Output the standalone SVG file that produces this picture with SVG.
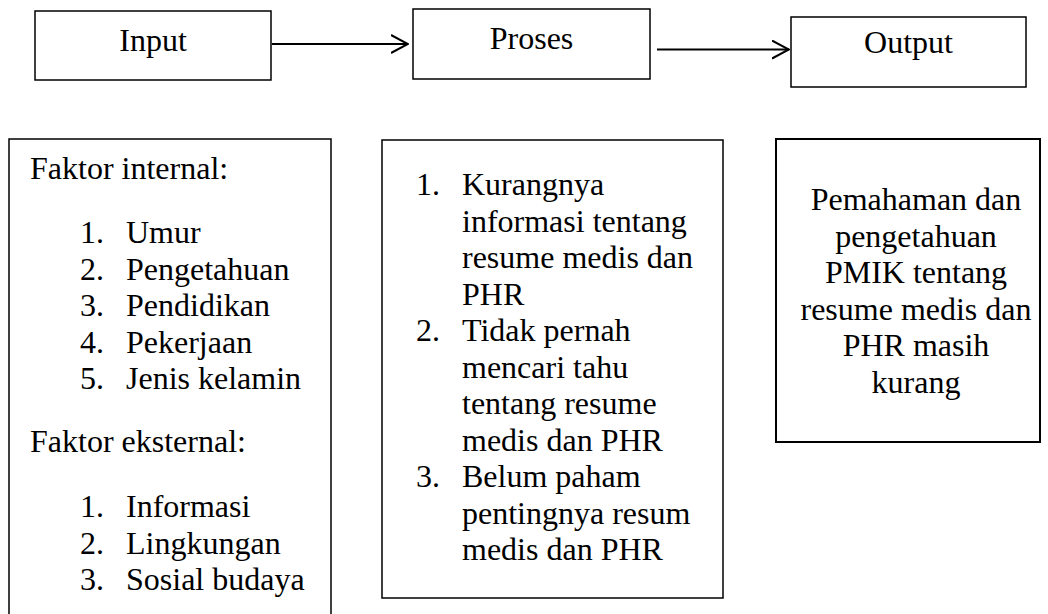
<svg xmlns="http://www.w3.org/2000/svg" width="1048" height="614" viewBox="0 0 1048 614">
<defs>
  <marker id="arr" viewBox="0 0 18 20" refX="17" refY="10" markerWidth="18" markerHeight="20" markerUnits="userSpaceOnUse" orient="auto">
    <path d="M0,1 L17,10 L0,19" fill="none" stroke="#000" stroke-width="2"/>
  </marker>
</defs>
<rect width="1048" height="614" fill="#fff"/>

<g id="input">
  <rect x="35" y="11" width="236" height="69" fill="#fff" stroke="#000" stroke-width="1.5"/>
  <text font-family="Tinos" font-size="32" text-anchor="middle" x="153" y="51">Input</text>
</g>
<g id="proses">
  <rect x="413" y="9" width="237" height="70" fill="#fff" stroke="#000" stroke-width="1.5"/>
  <text font-family="Tinos" font-size="32" text-anchor="middle" x="531.5" y="49">Proses</text>
</g>
<g id="output">
  <rect x="791" y="17" width="235" height="70" fill="#fff" stroke="#000" stroke-width="1.5"/>
  <text font-family="Tinos" font-size="32" text-anchor="middle" x="908.5" y="53">Output</text>
</g>

<g id="connectors" stroke="#000" stroke-width="2" fill="none">
  <line x1="272" y1="44" x2="408" y2="44" marker-end="url(#arr)"/>
  <line x1="657" y1="49.5" x2="789" y2="49.5" marker-end="url(#arr)"/>
</g>

<g id="input-detail">
  <rect x="9" y="139" width="322" height="490" fill="#fff" stroke="#000" stroke-width="1.5"/>
  <text font-family="Tinos" font-size="32" x="30" y="179">Faktor internal:</text>
  <text font-family="Tinos" font-size="32" x="80" y="243">1.</text>
  <text font-family="Tinos" font-size="32" x="126" y="243">Umur</text>
  <text font-family="Tinos" font-size="32" x="80" y="279.5">2.</text>
  <text font-family="Tinos" font-size="32" x="126" y="279.5">Pengetahuan</text>
  <text font-family="Tinos" font-size="32" x="80" y="316">3.</text>
  <text font-family="Tinos" font-size="32" x="126" y="316">Pendidikan</text>
  <text font-family="Tinos" font-size="32" x="80" y="352.5">4.</text>
  <text font-family="Tinos" font-size="32" x="126" y="352.5">Pekerjaan</text>
  <text font-family="Tinos" font-size="32" x="80" y="389">5.</text>
  <text font-family="Tinos" font-size="32" x="126" y="389">Jenis kelamin</text>
  <text font-family="Tinos" font-size="32" x="30" y="452">Faktor eksternal:</text>
  <text font-family="Tinos" font-size="32" x="80" y="517">1.</text>
  <text font-family="Tinos" font-size="32" x="126" y="517">Informasi</text>
  <text font-family="Tinos" font-size="32" x="80" y="553.5">2.</text>
  <text font-family="Tinos" font-size="32" x="126" y="553.5">Lingkungan</text>
  <text font-family="Tinos" font-size="32" x="80" y="590">3.</text>
  <text font-family="Tinos" font-size="32" x="126" y="590">Sosial budaya</text>
</g>

<g id="proses-detail">
  <rect x="382" y="140" width="341" height="458" fill="#fff" stroke="#000" stroke-width="1.5"/>
  <text font-family="Tinos" font-size="32" x="416" y="195">1.</text>
  <text font-family="Tinos" font-size="32" x="462" y="195">Kurangnya</text>
  <text font-family="Tinos" font-size="32" x="462" y="231.5">informasi tentang</text>
  <text font-family="Tinos" font-size="32" x="462" y="268">resume medis dan</text>
  <text font-family="Tinos" font-size="32" x="462" y="304.5">PHR</text>
  <text font-family="Tinos" font-size="32" x="416" y="341">2.</text>
  <text font-family="Tinos" font-size="32" x="462" y="341">Tidak pernah</text>
  <text font-family="Tinos" font-size="32" x="462" y="377.5">mencari tahu</text>
  <text font-family="Tinos" font-size="32" x="462" y="414">tentang resume</text>
  <text font-family="Tinos" font-size="32" x="462" y="450.5">medis dan PHR</text>
  <text font-family="Tinos" font-size="32" x="416" y="487">3.</text>
  <text font-family="Tinos" font-size="32" x="462" y="487">Belum paham</text>
  <text font-family="Tinos" font-size="32" x="462" y="523.5">pentingnya resum</text>
  <text font-family="Tinos" font-size="32" x="462" y="560">medis dan PHR</text>
</g>

<g id="output-detail">
  <rect x="776" y="139" width="264" height="303" fill="#fff" stroke="#000" stroke-width="2"/>
  <text font-family="Tinos" font-size="32" text-anchor="middle" x="916" y="210">Pemahaman dan</text>
  <text font-family="Tinos" font-size="32" text-anchor="middle" x="916" y="246.5">pengetahuan</text>
  <text font-family="Tinos" font-size="32" text-anchor="middle" x="916" y="283">PMIK tentang</text>
  <text font-family="Tinos" font-size="32" text-anchor="middle" x="916" y="319.5">resume medis dan</text>
  <text font-family="Tinos" font-size="32" text-anchor="middle" x="916" y="356">PHR masih</text>
  <text font-family="Tinos" font-size="32" text-anchor="middle" x="916" y="392.5">kurang</text>
</g>
</svg>
